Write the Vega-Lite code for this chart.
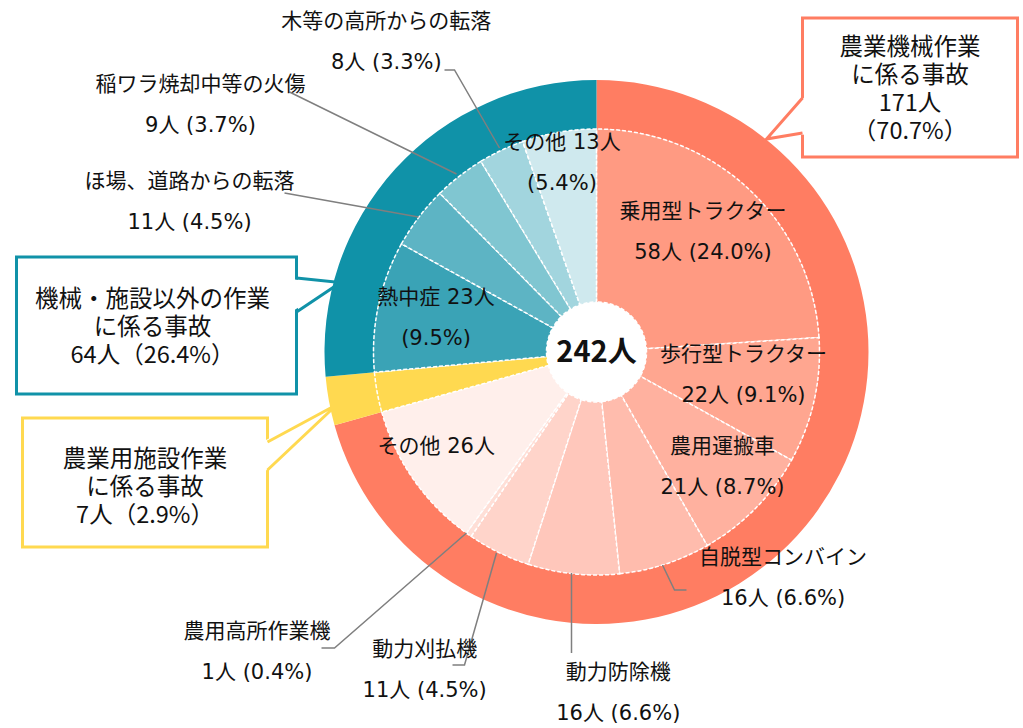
{
  "$schema": "https://vega.github.io/schema/vega-lite/v6.json",
  "padding": {"left": 14.5, "top": 0, "right": 0, "bottom": 0},
  "config": {"view": {"stroke": null}, "text": {"font": "Noto Sans CJK JP", "color": "#111111"}},
  "datasets": {
    "outer": [
      {"ord": 1, "name": "農業機械作業に係る事故", "n": 171, "box": "農業機械作業|に係る事故|171人|（70.7%）"},
      {"ord": 2, "name": "農業用施設作業に係る事故", "n": 7, "box": "農業用施設作業|に係る事故|7人（2.9%）"},
      {"ord": 3, "name": "機械・施設以外の作業に係る事故", "n": 64, "box": "機械・施設以外の作業|に係る事故|64人（26.4%）"}
    ],
    "inner": [
      {"ord": 1, "name": "乗用型トラクター", "n": 58, "label": "乗用型トラクター|58人 (24.0%)"},
      {"ord": 2, "name": "歩行型トラクター", "n": 22, "label": "歩行型トラクター|22人 (9.1%)"},
      {"ord": 3, "name": "農用運搬車", "n": 21, "label": "農用運搬車|21人 (8.7%)"},
      {"ord": 4, "name": "自脱型コンバイン", "n": 16, "label": "自脱型コンバイン|16人 (6.6%)"},
      {"ord": 5, "name": "動力防除機", "n": 16, "label": "動力防除機|16人 (6.6%)"},
      {"ord": 6, "name": "動力刈払機", "n": 11, "label": "動力刈払機|11人 (4.5%)"},
      {"ord": 7, "name": "農用高所作業機", "n": 1, "label": "農用高所作業機|1人 (0.4%)"},
      {"ord": 8, "name": "その他（農業機械）", "n": 26, "label": "その他 26人"},
      {"ord": 9, "name": "農業用施設作業", "n": 7, "label": ""},
      {"ord": 10, "name": "熱中症", "n": 23, "label": "熱中症 23人|(9.5%)"},
      {"ord": 11, "name": "ほ場、道路からの転落", "n": 11, "label": "ほ場、道路からの転落|11人 (4.5%)"},
      {"ord": 12, "name": "稲ワラ焼却中等の火傷", "n": 9, "label": "稲ワラ焼却中等の火傷|9人 (3.7%)"},
      {"ord": 13, "name": "木等の高所からの転落", "n": 8, "label": "木等の高所からの転落|8人 (3.3%)"},
      {"ord": 14, "name": "その他（機械・施設以外）", "n": 13, "label": "その他 13人|(5.4%)"}
    ]
  },
  "hconcat": [
    {
      "vconcat": [
        {"width": 374, "height": 257, "data": {"values": [{}]}, "mark": {"type": "text"}, "encoding": {"text": {"value": ""}}},
        {
          "width": 280, "height": 137,
          "view": {"stroke": "#1092A8", "strokeWidth": 3, "fill": "white"},
          "data": {"name": "outer"},
          "transform": [{"filter": "datum.ord == 3"}],
          "layer": [
            {"mark": {"type": "point", "shape": "M137,-46 L184,-43 L137,-15 Z", "size": 4, "filled": true, "fill": "white", "strokeWidth": 0, "opacity": 1}, "encoding": {}},
            {"mark": {"type": "point", "shape": "M140,-47.5 L184,-43 L140,-13.5", "size": 4, "filled": false, "stroke": "#1092A8", "strokeWidth": 3, "opacity": 1}, "encoding": {}},
            {"mark": {"type": "text", "fontSize": 23.5, "lineBreak": "|", "lineHeight": 28, "dx": -4, "dy": -25.5}, "encoding": {"text": {"field": "box"}}}
          ]
        },
        {"width": 1, "height": 24, "data": {"values": [{}]}, "mark": {"type": "text"}, "encoding": {"text": {"value": ""}}},
        {
          "hconcat": [
            {"width": 6, "height": 1, "data": {"values": [{}]}, "mark": {"type": "text"}, "encoding": {"text": {"value": ""}}},
            {
              "width": 245, "height": 129,
              "view": {"stroke": "#FFD950", "strokeWidth": 3, "fill": "white"},
              "data": {"name": "outer"},
              "transform": [{"filter": "datum.ord == 2"}],
              "layer": [
                {"mark": {"type": "point", "shape": "M120,-42 L192,-78 L120,-11 Z", "size": 4, "filled": true, "fill": "white", "strokeWidth": 0, "opacity": 1}, "encoding": {}},
                {"mark": {"type": "point", "shape": "M122.5,-40.5 L192,-78 L122.5,-12.5", "size": 4, "filled": false, "stroke": "#FFD950", "strokeWidth": 3, "opacity": 1}, "encoding": {}},
                {"mark": {"type": "text", "fontSize": 23.5, "lineBreak": "|", "lineHeight": 28, "dx": 0, "dy": -22.5}, "encoding": {"text": {"field": "box"}}}
              ]
            }
          ],
          "spacing": 0,
          "bounds": "flush"
        }
      ],
      "spacing": 0,
      "bounds": "flush"
    },
    {
      "hconcat": [
        {
          "width": 412, "height": 704,
          "layer": [
            {
              "data": {"name": "outer"},
              "mark": {"type": "arc", "radius": 272, "radius2": 223},
              "encoding": {
                "theta": {"field": "n", "type": "quantitative", "stack": true},
                "order": {"field": "ord", "type": "quantitative"},
                "color": {"field": "name", "type": "nominal", "legend": null,
                  "scale": {
                    "domain": ["農業機械作業に係る事故","農業用施設作業に係る事故","機械・施設以外の作業に係る事故","乗用型トラクター","歩行型トラクター","農用運搬車","自脱型コンバイン","動力防除機","動力刈払機","農用高所作業機","その他（農業機械）","農業用施設作業","熱中症","ほ場、道路からの転落","稲ワラ焼却中等の火傷","木等の高所からの転落","その他（機械・施設以外）"],
                    "range": ["#FF7D62","#FFD950","#1092A8","#FF9A82","#FFA690","#FFB19F","#FFBCAD","#FFC7BB","#FFD4CA","#FFDFD7","#FFEFEB","#FFD950","#3AA3B6","#5DB4C4","#80C6D1","#A2D5DE","#CFE9EE"]
                  }
                }
              }
            },
            {
              "data": {"name": "inner"},
              "mark": {"type": "arc", "radius": 223, "radius2": 50, "stroke": "white", "strokeWidth": 1.5, "strokeDash": [4, 2]},
              "encoding": {
                "theta": {"field": "n", "type": "quantitative", "stack": true},
                "order": {"field": "ord", "type": "quantitative"},
                "color": {"field": "name", "type": "nominal", "legend": null,
                  "scale": {
                    "domain": ["農業機械作業に係る事故","農業用施設作業に係る事故","機械・施設以外の作業に係る事故","乗用型トラクター","歩行型トラクター","農用運搬車","自脱型コンバイン","動力防除機","動力刈払機","農用高所作業機","その他（農業機械）","農業用施設作業","熱中症","ほ場、道路からの転落","稲ワラ焼却中等の火傷","木等の高所からの転落","その他（機械・施設以外）"],
                    "range": ["#FF7D62","#FFD950","#1092A8","#FF9A82","#FFA690","#FFB19F","#FFBCAD","#FFC7BB","#FFD4CA","#FFDFD7","#FFEFEB","#FFD950","#3AA3B6","#5DB4C4","#80C6D1","#A2D5DE","#CFE9EE"]
                  }
                }
              }
            },
            {
              "data": {"name": "outer"},
              "transform": [{"filter": "datum.ord == 1"}],
              "mark": {"type": "point", "shape": "M-152,-282 L-142,-282 L-97,-204 M-307,-260 L-140,-178 M-312,-159 L-178,-135 M66,213 L78,238 L90,238 M-25,221 L-25,301 M-100,201 L-132,313 L-144,313 M-130,181 L-262,296 L-275,296", "size": 4, "filled": false, "stroke": "#7F7F7F", "strokeWidth": 1.5, "opacity": 1},
              "encoding": {}
            },
            {"data": {"name": "inner"}, "transform": [{"filter": "datum.ord <= 1"}], "mark": {"type": "text", "radius": 161, "dx": -3.6, "dy": -22.5, "fontSize": 21, "lineBreak": "|", "lineHeight": 41, "font": "DejaVu Sans, Noto Sans CJK JP"},
             "encoding": {"theta": {"field": "n", "type": "quantitative", "stack": true}, "order": {"field": "ord", "type": "quantitative"}, "detail": {"field": "name", "type": "nominal"}, "text": {"condition": {"test": "datum.ord == 1", "field": "label"}, "value": ""}}},
            {"data": {"name": "inner"}, "transform": [{"filter": "datum.ord <= 2"}], "mark": {"type": "text", "radius": 150, "dx": 0.6, "dy": -29.8, "fontSize": 21, "lineBreak": "|", "lineHeight": 41, "font": "DejaVu Sans, Noto Sans CJK JP"},
             "encoding": {"theta": {"field": "n", "type": "quantitative", "stack": true}, "order": {"field": "ord", "type": "quantitative"}, "detail": {"field": "name", "type": "nominal"}, "text": {"condition": {"test": "datum.ord == 2", "field": "label"}, "value": ""}}},
            {"data": {"name": "inner"}, "transform": [{"filter": "datum.ord <= 3"}], "mark": {"type": "text", "radius": 170, "dx": 5, "dy": -24.5, "fontSize": 21, "lineBreak": "|", "lineHeight": 41, "font": "DejaVu Sans, Noto Sans CJK JP"},
             "encoding": {"theta": {"field": "n", "type": "quantitative", "stack": true}, "order": {"field": "ord", "type": "quantitative"}, "detail": {"field": "name", "type": "nominal"}, "text": {"condition": {"test": "datum.ord == 3", "field": "label"}, "value": ""}}},
            {"data": {"name": "inner"}, "transform": [{"filter": "datum.ord <= 4"}], "mark": {"type": "text", "radius": 240, "dx": 113, "dy": -22.4, "fontSize": 21, "lineBreak": "|", "lineHeight": 41, "font": "DejaVu Sans, Noto Sans CJK JP"},
             "encoding": {"theta": {"field": "n", "type": "quantitative", "stack": true}, "order": {"field": "ord", "type": "quantitative"}, "detail": {"field": "name", "type": "nominal"}, "text": {"condition": {"test": "datum.ord == 4", "field": "label"}, "value": ""}}},
            {"data": {"name": "inner"}, "transform": [{"filter": "datum.ord <= 5"}], "mark": {"type": "text", "radius": 340, "dx": 57, "dy": -17, "fontSize": 21, "lineBreak": "|", "lineHeight": 41, "font": "DejaVu Sans, Noto Sans CJK JP"},
             "encoding": {"theta": {"field": "n", "type": "quantitative", "stack": true}, "order": {"field": "ord", "type": "quantitative"}, "detail": {"field": "name", "type": "nominal"}, "text": {"condition": {"test": "datum.ord == 5", "field": "label"}, "value": ""}}},
            {"data": {"name": "inner"}, "transform": [{"filter": "datum.ord <= 6"}], "mark": {"type": "text", "radius": 330, "dx": -27, "dy": 1.5, "fontSize": 21, "lineBreak": "|", "lineHeight": 41, "font": "DejaVu Sans, Noto Sans CJK JP"},
             "encoding": {"theta": {"field": "n", "type": "quantitative", "stack": true}, "order": {"field": "ord", "type": "quantitative"}, "detail": {"field": "name", "type": "nominal"}, "text": {"condition": {"test": "datum.ord == 6", "field": "label"}, "value": ""}}},
            {"data": {"name": "inner"}, "transform": [{"filter": "datum.ord <= 7"}], "mark": {"type": "text", "radius": 300, "dx": -167.6, "dy": 34, "fontSize": 21, "lineBreak": "|", "lineHeight": 41, "font": "DejaVu Sans, Noto Sans CJK JP"},
             "encoding": {"theta": {"field": "n", "type": "quantitative", "stack": true}, "order": {"field": "ord", "type": "quantitative"}, "detail": {"field": "name", "type": "nominal"}, "text": {"condition": {"test": "datum.ord == 7", "field": "label"}, "value": ""}}},
            {"data": {"name": "inner"}, "transform": [{"filter": "datum.ord <= 8"}], "mark": {"type": "text", "radius": 187, "dx": -7, "dy": -12, "fontSize": 21, "lineBreak": "|", "lineHeight": 41, "font": "DejaVu Sans, Noto Sans CJK JP"},
             "encoding": {"theta": {"field": "n", "type": "quantitative", "stack": true}, "order": {"field": "ord", "type": "quantitative"}, "detail": {"field": "name", "type": "nominal"}, "text": {"condition": {"test": "datum.ord == 8", "field": "label"}, "value": ""}}},
            {"data": {"name": "inner"}, "transform": [{"filter": "datum.ord <= 10"}], "mark": {"type": "text", "radius": 164, "dx": 0, "dy": -20, "fontSize": 21, "lineBreak": "|", "lineHeight": 41, "font": "DejaVu Sans, Noto Sans CJK JP"},
             "encoding": {"theta": {"field": "n", "type": "quantitative", "stack": true}, "order": {"field": "ord", "type": "quantitative"}, "detail": {"field": "name", "type": "nominal"}, "text": {"condition": {"test": "datum.ord == 10", "field": "label"}, "value": ""}}},
            {"data": {"name": "inner"}, "transform": [{"filter": "datum.ord <= 11"}], "mark": {"type": "text", "radius": 300, "dx": -168, "dy": 11.4, "fontSize": 21, "lineBreak": "|", "lineHeight": 41, "font": "DejaVu Sans, Noto Sans CJK JP"},
             "encoding": {"theta": {"field": "n", "type": "quantitative", "stack": true}, "order": {"field": "ord", "type": "quantitative"}, "detail": {"field": "name", "type": "nominal"}, "text": {"condition": {"test": "datum.ord == 11", "field": "label"}, "value": ""}}},
            {"data": {"name": "inner"}, "transform": [{"filter": "datum.ord <= 12"}], "mark": {"type": "text", "radius": 300, "dx": -211.6, "dy": -30.4, "fontSize": 21, "lineBreak": "|", "lineHeight": 41, "font": "DejaVu Sans, Noto Sans CJK JP"},
             "encoding": {"theta": {"field": "n", "type": "quantitative", "stack": true}, "order": {"field": "ord", "type": "quantitative"}, "detail": {"field": "name", "type": "nominal"}, "text": {"condition": {"test": "datum.ord == 12", "field": "label"}, "value": ""}}},
            {"data": {"name": "inner"}, "transform": [{"filter": "datum.ord <= 13"}], "mark": {"type": "text", "radius": 300, "dx": -82, "dy": -58.7, "fontSize": 21, "lineBreak": "|", "lineHeight": 41, "font": "DejaVu Sans, Noto Sans CJK JP"},
             "encoding": {"theta": {"field": "n", "type": "quantitative", "stack": true}, "order": {"field": "ord", "type": "quantitative"}, "detail": {"field": "name", "type": "nominal"}, "text": {"condition": {"test": "datum.ord == 13", "field": "label"}, "value": ""}}},
            {"data": {"name": "inner"}, "transform": [{"filter": "datum.ord <= 14"}], "mark": {"type": "text", "radius": 190, "dx": -2.6, "dy": -21.7, "fontSize": 21, "lineBreak": "|", "lineHeight": 41, "font": "DejaVu Sans, Noto Sans CJK JP"},
             "encoding": {"theta": {"field": "n", "type": "quantitative", "stack": true}, "order": {"field": "ord", "type": "quantitative"}, "detail": {"field": "name", "type": "nominal"}, "text": {"condition": {"test": "datum.ord == 14", "field": "label"}, "value": ""}}},
            {"data": {"values": [{"total": "242人"}]}, "mark": {"type": "text", "fontSize": 29, "fontWeight": "bold", "dy": 1}, "encoding": {"text": {"field": "total"}}}
          ]
        },
        {
          "vconcat": [
            {"width": 215, "height": 18, "data": {"values": [{}]}, "mark": {"type": "text"}, "encoding": {"text": {"value": ""}}},
            {
              "width": 215, "height": 139,
              "view": {"stroke": "#FF7D62", "strokeWidth": 3, "fill": "white"},
              "data": {"name": "outer"},
              "transform": [{"filter": "datum.ord == 1"}],
              "layer": [
                {"mark": {"type": "point", "shape": "M-105,9 L-143.5,51.5 L-105,47 Z", "size": 4, "filled": true, "fill": "white", "strokeWidth": 0, "opacity": 1}, "encoding": {}},
                {"mark": {"type": "point", "shape": "M-107.5,10.5 L-143.5,51.5 L-107.5,45.5", "size": 4, "filled": false, "stroke": "#FF7D62", "strokeWidth": 3, "opacity": 1}, "encoding": {}},
                {"mark": {"type": "text", "fontSize": 23.5, "lineBreak": "|", "lineHeight": 28, "dx": 0, "dy": -39.5}, "encoding": {"text": {"field": "box"}}}
              ]
            }
          ],
          "spacing": 0,
          "bounds": "flush"
        }
      ],
      "spacing": 0,
      "bounds": "flush"
    }
  ],
  "spacing": 374,
  "bounds": "flush"
}
